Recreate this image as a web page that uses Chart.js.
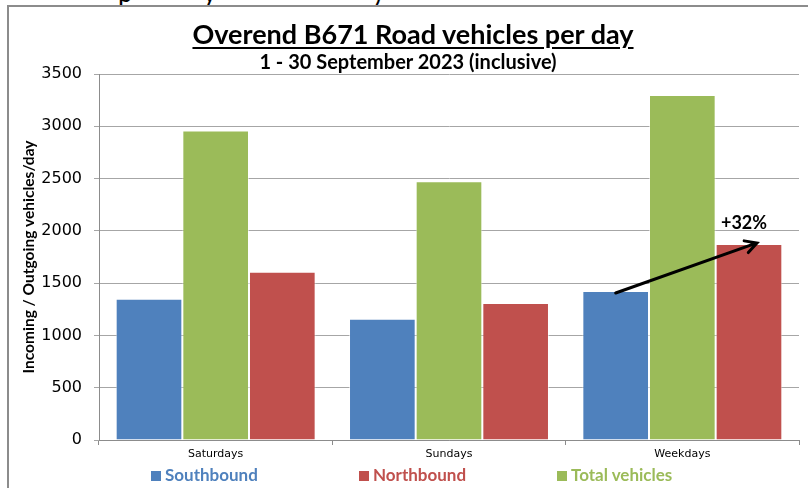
<!DOCTYPE html>
<html>
<head>
<meta charset="utf-8">
<script src="https://cdn.jsdelivr.net/npm/chart.js@4"></script>
<style>
  html, body { margin: 0; padding: 0; background: #fff; }
  #wrap { position: relative; width: 808px; height: 488px; overflow: hidden; }
  #cut { position: absolute; left: 0; top: 0; width: 808px; height: 5px; overflow: hidden; }
  #cut span { position: absolute; top: -24px; line-height: 26px; font: 26px Lato, sans-serif; color: #000; }
  #frameTop { position: absolute; left: 8px; top: 5px; width: 800px; height: 2px; background: #8c8c8c; }
  #frameLeft { position: absolute; left: 7px; top: 5px; width: 2px; height: 483px; background: #8c8c8c; }
  #title { position: absolute; left: 0; width: 826px; top: 17px; text-align: center;
           font: bold 27px Lato, sans-serif; color: #000; }
  #title span { text-decoration: underline; text-underline-offset: 3px; text-decoration-thickness: 2px; }
  #subtitle { position: absolute; left: 0; width: 816px; top: 49px; text-align: center;
              font: bold 20px Lato, sans-serif; color: #000; }
  .leg { position: absolute; top: 464px; font: bold 17px Lato, sans-serif; white-space: nowrap; }
  .leg i { display: inline-block; width: 10px; height: 10px; margin-right: 4px; vertical-align: 0px; }
  canvas { position: absolute; left: 0; top: 0; }
</style>
</head>
<body>
<div id="wrap">
  <div id="cut"><span style="left:118px">p</span><span style="left:203px">y</span><span style="left:375px">)</span></div>
  <div id="frameTop"></div>
  <div id="frameLeft"></div>
  <canvas id="roadChart" width="808" height="488"></canvas>
  <div id="title"><span>Overend B671 Road vehicles per day</span></div>
  <div id="subtitle">1 - 30 September 2023 (inclusive)</div>
  <div id="legend"></div>
</div>
<script>
const categories = ['Saturdays', 'Sundays', 'Weekdays'];
const southbound = [1350, 1160, 1425];
const totalVehicles = [2960, 2475, 3300];
const northbound = [1610, 1310, 1875];
const yTicks = [0, 500, 1000, 1500, 2000, 2500, 3000, 3500];

const BLUE = '#4f81bd', RED = '#c0504d', GREEN = '#9bbb59';

// legend in Excel order (Southbound, Northbound, Total)
const legendItems = [
  { label: 'Southbound', color: BLUE, left: 151 },
  { label: 'Northbound', color: RED, left: 359 },
  { label: 'Total vehicles', color: GREEN, left: 557 }
];
const legendDiv = document.getElementById('legend');
legendItems.forEach(function (it) {
  const d = document.createElement('div');
  d.className = 'leg';
  d.style.left = it.left + 'px';
  d.style.color = it.color;
  d.innerHTML = '<i style="background:' + it.color + '"></i>' + it.label;
  legendDiv.appendChild(d);
});

// arrow from weekday southbound to weekday northbound with % increase
const arrowPlugin = {
  id: 'arrowPlugin',
  afterDatasetsDraw(chart) {
    const i = 2;
    const s = chart.getDatasetMeta(0).data[i];
    const n = chart.getDatasetMeta(2).data[i];
    const x1 = s.x, y1 = s.y + 2;
    const x2 = n.x + 8, y2 = n.y - 1;
    const ctx = chart.ctx;
    ctx.save();
    ctx.strokeStyle = '#000';
    ctx.lineWidth = 3;
    ctx.lineCap = 'round';
    ctx.beginPath();
    ctx.moveTo(x1, y1);
    ctx.lineTo(x2, y2);
    const ang = Math.atan2(y2 - y1, x2 - x1);
    const head = 13;
    ctx.moveTo(x2 - head * Math.cos(ang - 0.5), y2 - head * Math.sin(ang - 0.5));
    ctx.lineTo(x2, y2);
    ctx.lineTo(x2 - head * Math.cos(ang + 0.5), y2 - head * Math.sin(ang + 0.5));
    ctx.stroke();
    const pct = Math.round((northbound[i] / southbound[i] - 1) * 100);
    ctx.fillStyle = '#000';
    ctx.font = 'bold 18px Lato, sans-serif';
    ctx.textAlign = 'center';
    ctx.textBaseline = 'middle';
    ctx.fillText('+' + pct + '%', n.x - 5, n.y - 21);
    ctx.restore();
  }
};

const ctx = document.getElementById('roadChart').getContext('2d');
new Chart(ctx, {
  type: 'bar',
  data: {
    labels: categories,
    datasets: [
      { label: 'Southbound', data: southbound, backgroundColor: BLUE },
      { label: 'Total vehicles', data: totalVehicles, backgroundColor: GREEN },
      { label: 'Northbound', data: northbound, backgroundColor: RED }
    ]
  },
  options: {
    responsive: false,
    animation: false,
    layout: { padding: { left: 0, right: 9, top: 74, bottom: 0 } },
    datasets: {
      bar: {
        categoryPercentage: 0.857,
        barPercentage: 1.0,
        borderWidth: 1,
        borderColor: 'rgba(255,255,255,0.55)'
      }
    },
    plugins: {
      legend: { display: false },
      tooltip: { enabled: false }
    },
    scales: {
      x: {
        afterFit(s) { s.height = 48; },
        grid: { drawOnChartArea: false, tickLength: 5, color: '#8c8c8c' },
        border: { color: '#8c8c8c' },
        ticks: { color: '#000', font: { family: '"DejaVu Sans"', size: 11 }, padding: 3 }
      },
      y: {
        min: 0,
        max: 3500,
        afterFit(s) { s.width = 99; },
        afterBuildTicks(s) { s.ticks = yTicks.map(v => ({ value: v })); },
        grid: { color: '#a6a6a6', tickLength: 5 },
        border: { color: '#8c8c8c' },
        ticks: {
          color: '#000',
          font: { family: '"DejaVu Sans"', size: 16 },
          padding: 12,
          callback: v => String(v)
        },
        title: {
          display: true,
          text: 'Incoming / Outgoing vehicles/day',
          color: '#000',
          font: { family: 'Lato', size: 15.5, weight: 'bold' },
          padding: { top: 20, bottom: 0 }
        }
      }
    }
  },
  plugins: [arrowPlugin]
});
</script>
</body>
</html>
